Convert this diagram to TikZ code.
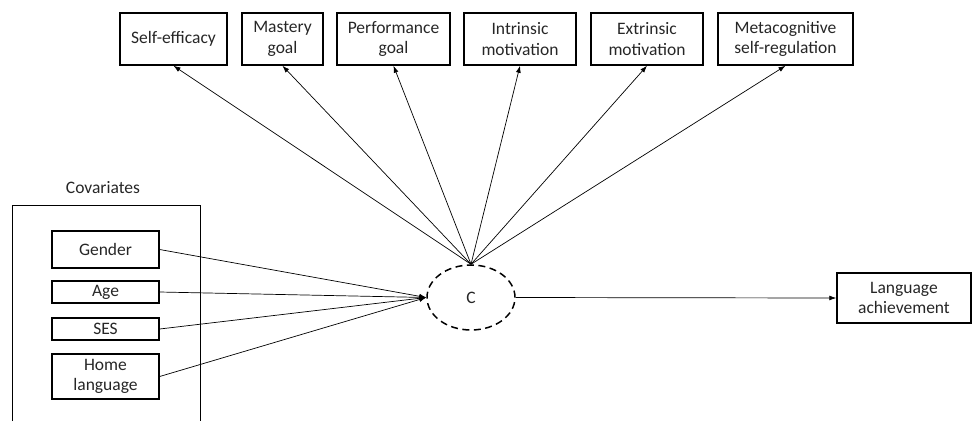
\documentclass[tikz,border=0pt]{standalone}
\usepackage{fontspec}
\setmainfont{Carlito}
\usetikzlibrary{arrows.meta,shapes.geometric}
\begin{document}
\begin{tikzpicture}[x=1pt,y=-1pt,
  font=\fontsize{17.5}{20.5}\selectfont,
  box/.style={draw,line width=1.5pt,rectangle,inner sep=0pt,align=center,minimum height=52pt,text=black!85},
  cbox/.style={draw,line width=1.3pt,rectangle,inner sep=0pt,align=center,minimum width=107pt,text=black!85},
  arr/.style={line width=0.7pt,-{Latex[length=7pt,width=5pt]}},
  ln/.style={line width=0.7pt,-{Latex[length=7pt,width=5pt]}}]
\useasboundingbox (0,0) rectangle (974,421);
% top boxes
\node[box,minimum width=107pt] (se) at (173.5,39) {Self-efficacy};
\node[box,minimum width=81pt] (mg) at (282.5,39) {Mastery\\goal};
\node[box,minimum width=113pt] (pg) at (393.5,39) {Performance\\goal};
\node[box,minimum width=112pt] (im) at (520,39) {Intrinsic\\motivation};
\node[box,minimum width=112pt] (em) at (647,39) {Extrinsic\\motivation};
\node[box,minimum width=135pt] (ms) at (785.5,39) {Metacognitive\\self-regulation};
% latent class
\node[ellipse,draw,dashed,dash pattern=on 7pt off 4.5pt,line width=1.5pt,minimum width=88pt,minimum height=65pt,inner sep=0pt,text=black!85] (c) at (471,297.5) {C};
% outcome
\node[box,minimum width=134pt,minimum height=50pt] (la) at (904,298) {Language\\achievement};
% covariates
\node[text=black!85] (covl) at (103,188) {Covariates};
\coordinate (f1) at (12,421);
\coordinate (f2) at (12,205);
\coordinate (f3) at (200,205);
\coordinate (f4) at (200,421);
\draw[line width=0.8pt] (f1) -- (f2) -- (f3) -- (f4);
\node[cbox,minimum height=37pt] (gen) at (105.5,249.5) {Gender};
\node[cbox,minimum height=22pt] (age) at (105.5,292) {Age};
\node[cbox,minimum height=22pt] (ses) at (105.5,329) {SES};
\node[cbox,minimum height=45pt] (hl) at (105.5,376.5) {Home\\language};
% connectors
\foreach \t in {se,mg,pg,im,em,ms}{\draw[arr] (c.north) -- (\t.south);}
\foreach \s in {gen,age,ses,hl}{\draw[ln] (\s.east) -- (c.west);}
\draw[arr] (c.east) -- (la.west);
\end{tikzpicture}
\end{document}
